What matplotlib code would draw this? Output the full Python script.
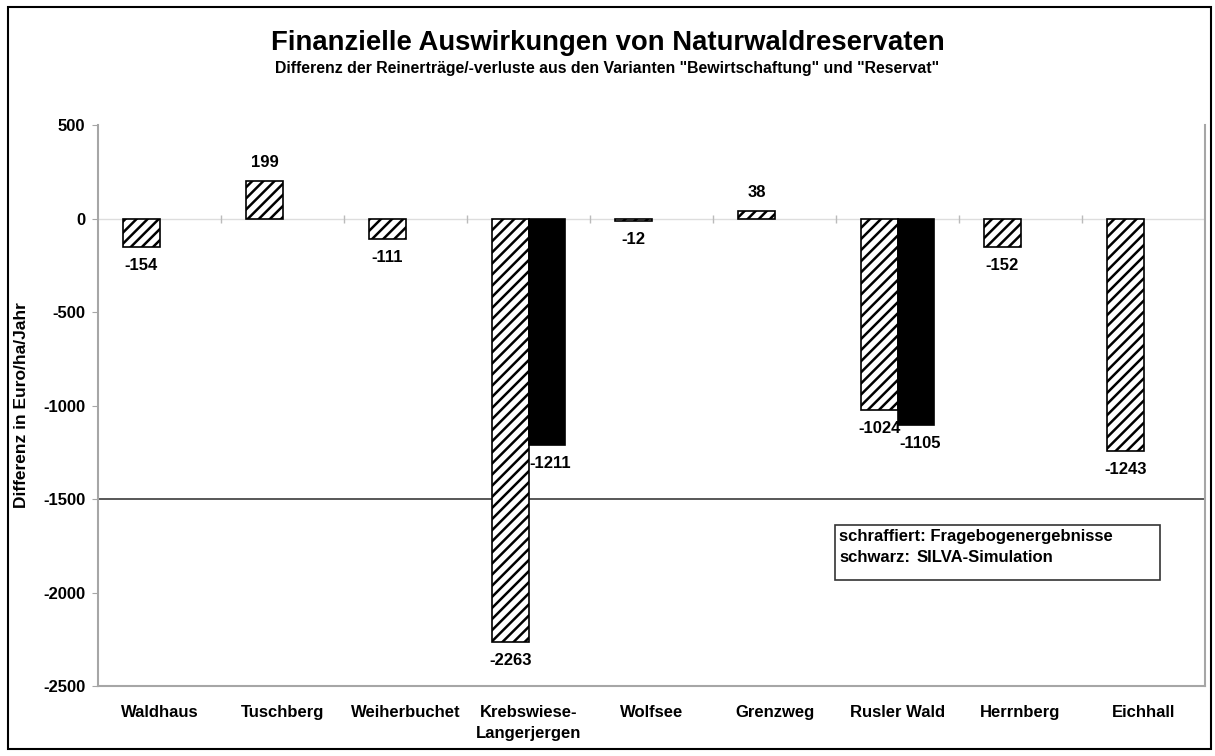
import numpy as np
import matplotlib

matplotlib.use("Agg")
import matplotlib.pyplot as plt
from matplotlib.patches import Rectangle

plt.rcParams["font.family"] = ["Liberation Sans", "DejaVu Sans"]
plt.rcParams["font.weight"] = "bold"
plt.rcParams["axes.unicode_minus"] = False
plt.rcParams["hatch.linewidth"] = 1.8

# data
categories = ["Waldhaus", "Tuschberg", "Weiherbuchet", "Krebswiese-\nLangerjergen",
              "Wolfsee", "Grenzweg", "Rusler Wald", "Herrnberg", "Eichhall"]
fragebogen = [-154, 199, -111, -2263, -12, 38, -1024, -152, -1243]
silva = [None, None, None, -1211, None, None, -1105, None, None]
y_ticks = [500, 0, -500, -1000, -1500, -2000, -2500]

title = "Finanzielle Auswirkungen von Naturwaldreservaten"
subtitle = 'Differenz der Reinerträge/-verluste aus den Varianten "Bewirtschaftung" und "Reservat"'

GRAY = "#a6a6a6"
BAR_W = 0.293

fig = plt.figure(figsize=(12.15, 7.56), dpi=100)
ax = fig.add_axes([98 / 1215, 1 - 686 / 756, (1205 - 98) / 1215, (686 - 125) / 756])

x = np.arange(len(categories))

ax.bar(x - BAR_W / 2, fragebogen, BAR_W, facecolor="white", edgecolor="black",
       hatch="///", linewidth=1.2, zorder=3)
for xi, v in zip(x, fragebogen):
    ax.annotate(str(v), (xi - BAR_W / 2, v), xytext=(0, 8 if v > 0 else -8),
                textcoords="offset points", ha="center", va="bottom" if v > 0 else "top",
                fontsize=12, fontweight="bold", zorder=5)

sx = [xi for xi, v in zip(x, silva) if v is not None]
sv = [v for v in silva if v is not None]
ax.bar(np.array(sx) + BAR_W / 2, sv, BAR_W, facecolor="black", edgecolor="black",
       linewidth=1.2, zorder=3)
for xi, v in zip(sx, sv):
    ax.annotate(str(v), (xi + BAR_W / 2, v), xytext=(3, -8), textcoords="offset points",
                ha="center", va="top", fontsize=12, fontweight="bold", zorder=5)

# zero line with category separators, reference line at -1500
ax.axhline(0, color="#dddddd", linewidth=1.0, zorder=1)
bounds = np.arange(len(categories) - 1) + 0.5
ax.plot(bounds, np.zeros_like(bounds), linestyle="none", marker="|", markersize=6,
        color="#bbbbbb", zorder=1)
ax.axhline(-1500, color="#4a4a4a", linewidth=1.3, zorder=2)

ax.set_xlim(-0.5, len(categories) - 0.5)
ax.set_ylim(-2500, 500)
ax.set_yticks(y_ticks)
ax.set_yticklabels([str(t) for t in y_ticks], fontsize=12, fontweight="bold")
ax.set_xticks(x)
ax.set_xticklabels(categories, fontsize=12, fontweight="bold", linespacing=1.5)
ax.tick_params(axis="x", length=0, pad=14)
ax.tick_params(axis="y", length=4, color=GRAY, pad=5)

for side in ("left", "bottom", "right"):
    ax.spines[side].set_color(GRAY)
    ax.spines[side].set_linewidth(1.5)
ax.spines["top"].set_visible(False)

fig.text(22 / 1215, 1 - 405 / 756, "Differenz in Euro/ha/Jahr", rotation=90,
         ha="center", va="center", fontsize=12.5, fontweight="bold")

fig.text(0.5, 1 - 43 / 756, title, ha="center", va="center", fontsize=19.8, fontweight="bold")
fig.text(0.5, 1 - 69 / 756, subtitle, ha="center", va="center", fontsize=11.4, fontweight="bold")

# note box
fig.patches.append(Rectangle((835 / 1215, 1 - 580 / 756), (1160 - 835) / 1215, 55 / 756,
                             transform=fig.transFigure, fill=False, edgecolor="#333333",
                             linewidth=1.2))
fig.text(839 / 1215, 1 - 537 / 756, "schraffiert: Fragebogenergebnisse", ha="left",
         va="center", fontsize=12, fontweight="bold")
fig.text(839 / 1215, 1 - 558 / 756, "schwarz:", ha="left", va="center", fontsize=12,
         fontweight="bold")
fig.text(917 / 1215, 1 - 558 / 756, "SILVA-Simulation", ha="left", va="center", fontsize=12,
         fontweight="bold")

# outer frame
fig.patches.append(Rectangle((8 / 1215, 1 - 749 / 756), 1203 / 1215, 742 / 756,
                             transform=fig.transFigure, fill=False, edgecolor="black",
                             linewidth=1.5))

fig.savefig("out.png", dpi=100)
